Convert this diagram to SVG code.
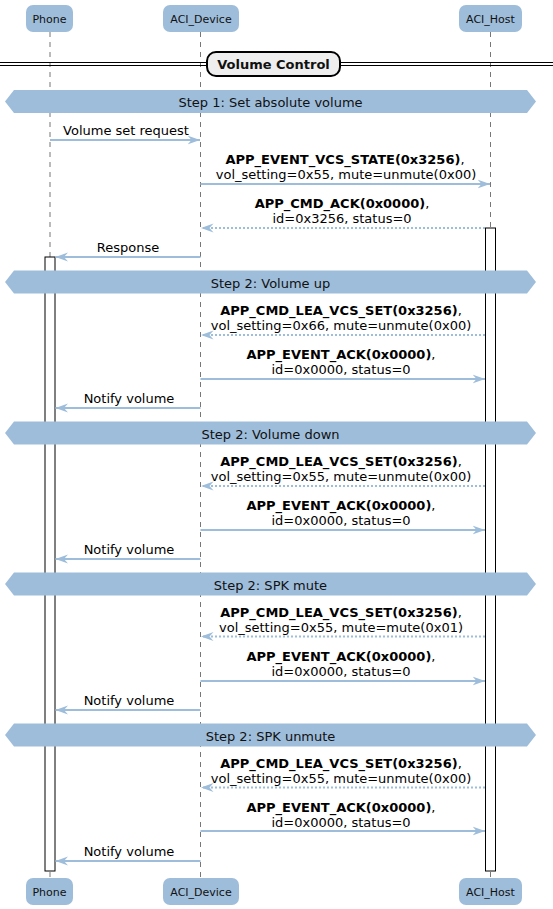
<svg xmlns="http://www.w3.org/2000/svg" width="553" height="909" viewBox="0 0 553 909">
<defs>
<style>
.part{fill:#9EBDDA;stroke:none}
.ptxt{font-family:"DejaVu Sans",sans-serif;font-size:11px;fill:#111;text-anchor:middle}
.life{stroke:#777;stroke-width:1;stroke-dasharray:5,5;fill:none}
.act{fill:#fff;stroke:#000;stroke-width:1}
.ban{fill:#9EBDDA;stroke:none}
.btxt{font-family:"DejaVu Sans",sans-serif;font-size:13px;fill:#111;text-anchor:middle}
.msg{stroke:#9EBDDA;stroke-width:2;fill:none}
.dot{stroke-dasharray:2,2}
.mtxt{font-family:"DejaVu Sans",sans-serif;font-size:13px;fill:#000;text-anchor:middle}
.b{font-weight:bold}
</style>
<marker id="ah" viewBox="0 0 13 10" refX="12.5" refY="5" markerWidth="13" markerHeight="10" orient="auto" markerUnits="userSpaceOnUse">
<path d="M0,0.5 L12.5,5 L0,9.5 L4,5 Z" fill="#9EBDDA"/>
</marker>
</defs>
<rect width="553" height="909" fill="#fff"/>

<g id="lifelines">
<line class="life" x1="50" y1="32" x2="50" y2="878"/>
<line class="life" x1="200.5" y1="32" x2="200.5" y2="878"/>
<line class="life" x1="490.5" y1="32" x2="490.5" y2="878"/>
</g>

<g id="activations">
<rect class="act" x="485.5" y="228" width="10" height="643"/>
<rect class="act" x="45" y="257" width="10" height="614"/>
</g>

<g id="participant-Phone">
<rect class="part" x="26" y="5" width="47" height="27" rx="7"/>
<text class="ptxt" x="49.5" y="22.5">Phone</text>
<rect class="part" x="26" y="878" width="47" height="27" rx="7"/>
<text class="ptxt" x="49.5" y="895.5">Phone</text>
</g>
<g id="participant-ACI_Device">
<rect class="part" x="163" y="5" width="76" height="27" rx="7"/>
<text class="ptxt" x="201" y="22.5">ACI_Device</text>
<rect class="part" x="163" y="878" width="76" height="27" rx="7"/>
<text class="ptxt" x="201" y="895.5">ACI_Device</text>
</g>
<g id="participant-ACI_Host">
<rect class="part" x="459" y="5" width="63" height="27" rx="7"/>
<text class="ptxt" x="490.5" y="22.5">ACI_Host</text>
<rect class="part" x="459" y="878" width="63" height="27" rx="7"/>
<text class="ptxt" x="490.5" y="895.5">ACI_Host</text>
</g>

<g id="divider-volume-control">
<line x1="0" y1="62.5" x2="553" y2="62.5" stroke="#000" stroke-width="1"/>
<line x1="0" y1="65.5" x2="553" y2="65.5" stroke="#000" stroke-width="1"/>
<rect x="207" y="52" width="133" height="24" rx="9" fill="#EEEEEE" stroke="#000" stroke-width="2"/>
<text class="btxt b" x="273.5" y="69">Volume Control</text>
</g>

<g id="banner-step1">
<polygon class="ban" points="5,101.5 14,90 527,90 536,101.5 527,113 14,113"/>
<text class="btxt" x="270.5" y="107">Step 1: Set absolute volume</text>
</g>
<g id="banner-volume-up">
<polygon class="ban" points="5,282 14,270.5 527,270.5 536,282 527,293.5 14,293.5"/>
<text class="btxt" x="270.5" y="287.5">Step 2: Volume up</text>
</g>
<g id="banner-volume-down">
<polygon class="ban" points="5,433 14,421.5 527,421.5 536,433 527,444.5 14,444.5"/>
<text class="btxt" x="270.5" y="438.5">Step 2: Volume down</text>
</g>
<g id="banner-spk-mute">
<polygon class="ban" points="5,584 14,572.5 527,572.5 536,584 527,595.5 14,595.5"/>
<text class="btxt" x="270.5" y="589.5">Step 2: SPK mute</text>
</g>
<g id="banner-spk-unmute">
<polygon class="ban" points="5,735 14,723.5 527,723.5 536,735 527,746.5 14,746.5"/>
<text class="btxt" x="270.5" y="740.5">Step 2: SPK unmute</text>
</g>

<g id="connectors">
<line class="msg" x1="50" y1="140" x2="200" y2="140" marker-end="url(#ah)"/>
<line class="msg" x1="200.5" y1="184" x2="490" y2="184" marker-end="url(#ah)"/>
<line class="msg dot" x1="485" y1="228" x2="201" y2="228" marker-end="url(#ah)"/>
<line class="msg" x1="200.5" y1="257" x2="55.5" y2="257" marker-end="url(#ah)"/>

<line class="msg dot" x1="485" y1="335" x2="201" y2="335" marker-end="url(#ah)"/>
<line class="msg" x1="200.5" y1="379" x2="485" y2="379" marker-end="url(#ah)"/>
<line class="msg" x1="200.5" y1="408" x2="55.5" y2="408" marker-end="url(#ah)"/>

<line class="msg dot" x1="485" y1="486" x2="201" y2="486" marker-end="url(#ah)"/>
<line class="msg" x1="200.5" y1="530" x2="485" y2="530" marker-end="url(#ah)"/>
<line class="msg" x1="200.5" y1="559" x2="55.5" y2="559" marker-end="url(#ah)"/>

<line class="msg dot" x1="485" y1="636.5" x2="201" y2="636.5" marker-end="url(#ah)"/>
<line class="msg" x1="200.5" y1="681" x2="485" y2="681" marker-end="url(#ah)"/>
<line class="msg" x1="200.5" y1="710" x2="55.5" y2="710" marker-end="url(#ah)"/>

<line class="msg dot" x1="485" y1="787.5" x2="201" y2="787.5" marker-end="url(#ah)"/>
<line class="msg" x1="200.5" y1="831" x2="485" y2="831" marker-end="url(#ah)"/>
<line class="msg" x1="200.5" y1="861" x2="55.5" y2="861" marker-end="url(#ah)"/>
</g>

<g id="message-labels">
<text class="mtxt" x="126" y="135">Volume set request</text>
<text class="mtxt" x="345" y="164"><tspan class="b">APP_EVENT_VCS_STATE(0x3256)</tspan>,</text>
<text class="mtxt" x="346" y="179">vol_setting=0x55, mute=unmute(0x00)</text>
<text class="mtxt" x="342" y="208"><tspan class="b">APP_CMD_ACK(0x0000)</tspan>,</text>
<text class="mtxt" x="342" y="223">id=0x3256, status=0</text>
<text class="mtxt" x="128" y="252">Response</text>

<text class="mtxt" x="341" y="315"><tspan class="b">APP_CMD_LEA_VCS_SET(0x3256)</tspan>,</text>
<text class="mtxt" x="341" y="330">vol_setting=0x66, mute=unmute(0x00)</text>
<text class="mtxt" x="341" y="359"><tspan class="b">APP_EVENT_ACK(0x0000)</tspan>,</text>
<text class="mtxt" x="341" y="374">id=0x0000, status=0</text>
<text class="mtxt" x="129" y="403">Notify volume</text>

<text class="mtxt" x="341" y="466"><tspan class="b">APP_CMD_LEA_VCS_SET(0x3256)</tspan>,</text>
<text class="mtxt" x="341" y="481">vol_setting=0x55, mute=unmute(0x00)</text>
<text class="mtxt" x="341" y="510"><tspan class="b">APP_EVENT_ACK(0x0000)</tspan>,</text>
<text class="mtxt" x="341" y="525">id=0x0000, status=0</text>
<text class="mtxt" x="129" y="554">Notify volume</text>

<text class="mtxt" x="341" y="617"><tspan class="b">APP_CMD_LEA_VCS_SET(0x3256)</tspan>,</text>
<text class="mtxt" x="341" y="632">vol_setting=0x55, mute=mute(0x01)</text>
<text class="mtxt" x="341" y="661"><tspan class="b">APP_EVENT_ACK(0x0000)</tspan>,</text>
<text class="mtxt" x="341" y="676">id=0x0000, status=0</text>
<text class="mtxt" x="129" y="705">Notify volume</text>

<text class="mtxt" x="341" y="768"><tspan class="b">APP_CMD_LEA_VCS_SET(0x3256)</tspan>,</text>
<text class="mtxt" x="341" y="783">vol_setting=0x55, mute=unmute(0x00)</text>
<text class="mtxt" x="341" y="812"><tspan class="b">APP_EVENT_ACK(0x0000)</tspan>,</text>
<text class="mtxt" x="341" y="827">id=0x0000, status=0</text>
<text class="mtxt" x="129" y="856">Notify volume</text>
</g>
</svg>
